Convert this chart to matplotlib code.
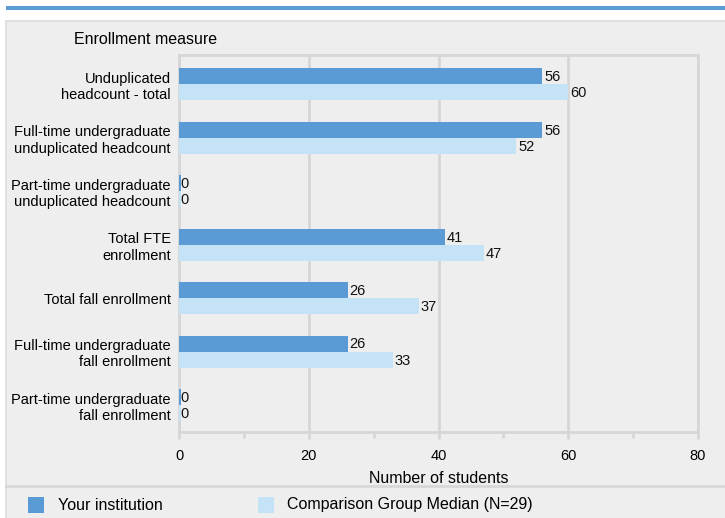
import matplotlib
matplotlib.use("Agg")
import matplotlib.pyplot as plt
from matplotlib.patches import Rectangle
import numpy as np

categories = ["Unduplicated\nheadcount - total",
              "Full-time undergraduate\nunduplicated headcount",
              "Part-time undergraduate\nunduplicated headcount",
              "Total FTE\nenrollment",
              "Total fall enrollment",
              "Full-time undergraduate\nfall enrollment",
              "Part-time undergraduate\nfall enrollment"]
your_inst = [56, 56, 0, 41, 26, 26, 0]
comparison = [60, 52, 0, 47, 37, 33, 0]
series_names = ["Your institution", "Comparison Group Median (N=29)"]
xticks = [0, 20, 40, 60, 80]

DARK = "#5B9BD5"
LIGHT = "#C5E3F7"
BG = "#EEEEEE"
GRID = "#D6D6D6"

plt.rcParams['font.family'] = ['Liberation Sans', 'DejaVu Sans']
FS = 11.5
FS2 = 10.5

W, H = 725, 518
fig = plt.figure(figsize=(W/100, H/100), dpi=100)
fig.patch.set_facecolor("white")

def frect(x0, y0, x1, y1, z=-5, **kw):
    r = Rectangle((x0/W, 1-y1/H), (x1-x0)/W, (y1-y0)/H,
                  transform=fig.transFigure, zorder=z, **kw)
    fig.add_artist(r)

# top blue line
frect(6, 6, W, 10, facecolor=DARK, edgecolor="none")
# panel
frect(6, 21, W+2, H+2, facecolor=BG, edgecolor="#DCDCDC", linewidth=1.2)
# legend separator
fig.add_artist(plt.Line2D([6/W, 1], [1-486/H, 1-486/H], transform=fig.transFigure,
                          color="#D8D8D8", linewidth=2, zorder=-4))

ax = fig.add_axes([179/W, 1-432/H, (698-179)/W, (432-55)/H])
ax.set_facecolor(BG)
n = len(categories)
y = np.arange(n)
h = 0.3
ax.barh(y - h/2, your_inst, height=h, color=DARK, zorder=3)
ax.barh(y + h/2, comparison, height=h, color=LIGHT, zorder=3)
# zero-value slivers
for i in range(n):
    if your_inst[i] == 0:
        ax.barh(y[i] - h/2, 0.25, height=h, color=DARK, zorder=3)
    if comparison[i] == 0:
        ax.barh(y[i] + h/2, 0.25, height=h, color=LIGHT, zorder=3)
for i in range(n):
    ax.annotate(str(your_inst[i]), (your_inst[i], y[i] - h/2), xytext=(1.2, -0.5),
                textcoords="offset points", va="center", ha="left", fontsize=FS2, color="#111111")
    ax.annotate(str(comparison[i]), (comparison[i], y[i] + h/2), xytext=(1.2, -0.5),
                textcoords="offset points", va="center", ha="left", fontsize=FS2, color="#111111")

ax.set_ylim(n - 0.5, -0.55)
ax.set_xlim(0, 80)
ax.set_xticks(xticks)
ax.set_xticks([10, 30, 50, 70], minor=True)
ax.set_yticks(y)
ax.set_yticklabels(categories, fontsize=FS2, ha="right", linespacing=1.2)
ax.tick_params(axis="y", length=0, pad=6)
ax.tick_params(axis="x", which="major", length=5, color=GRID, width=2, labelsize=FS2, pad=7)
ax.tick_params(axis="x", which="minor", length=4, color=GRID, width=2)
ax.grid(axis="x", color=GRID, linewidth=2, zorder=0)
for s in ax.spines.values():
    s.set_color(GRID)
    s.set_linewidth(2)
ax.set_xlabel("Number of students", fontsize=FS, labelpad=6)

fig.text(74/W, 1-40/H, "Enrollment measure", fontsize=FS, ha="left", va="center")

# legend
frect(28, 497, 44, 513, z=2, facecolor=DARK, edgecolor="none")
fig.text(58/W, 1-505/H, series_names[0], fontsize=FS, ha="left", va="center")
frect(258, 497, 274, 513, z=2, facecolor=LIGHT, edgecolor="none")
fig.text(287/W, 1-505/H, series_names[1], fontsize=FS, ha="left", va="center")

fig.savefig("out.png", dpi=100, facecolor=fig.get_facecolor())
